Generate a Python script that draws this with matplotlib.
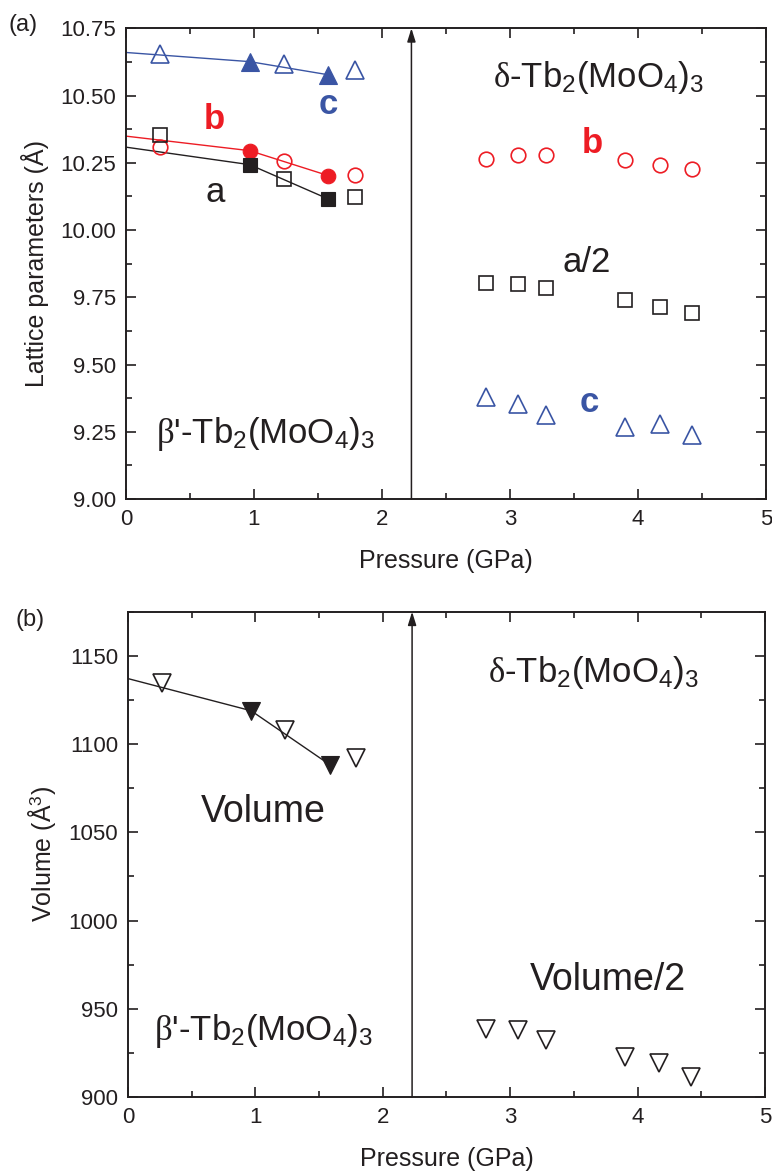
import matplotlib
matplotlib.use("Agg")
import matplotlib.pyplot as plt
from matplotlib.ticker import MultipleLocator, FormatStrFormatter

plt.rcParams['font.family'] = ['Liberation Sans', 'DejaVu Sans']
plt.rcParams['mathtext.fontset'] = 'custom'
plt.rcParams['mathtext.rm'] = 'Liberation Sans'
plt.rcParams['mathtext.it'] = 'Liberation Serif'
plt.rcParams['mathtext.bf'] = 'Liberation Sans:bold'

# ---- data -------------------------------------------------------------
# low-pressure beta' phase
p_lo_open = [0.268, 1.236, 1.788]
p_lo_fill = [0.966, 1.582]
p_fit = [0.0, 0.966, 1.582]

a_lo_open = [10.354, 10.191, 10.121]
a_lo_fill = [10.243, 10.115]
a_fit = [10.308, 10.243, 10.115]

b_lo_open = [10.308, 10.257, 10.204]
b_lo_fill = [10.295, 10.202]
b_fit = [10.349, 10.295, 10.202]

c_lo_open = [10.655, 10.619, 10.594]
c_lo_fill = [10.626, 10.577]
c_fit = [10.660, 10.626, 10.577]

# high-pressure delta phase
p_hi = [2.812, 3.062, 3.280, 3.902, 4.170, 4.422]
b_hi = [10.263, 10.279, 10.277, 10.261, 10.243, 10.226]
a2_hi = [9.803, 9.798, 9.785, 9.740, 9.713, 9.693]
c_hi = [9.381, 9.353, 9.311, 9.269, 9.279, 9.237]

# unit-cell volume
v_lo_open = [1134.5, 1108.0, 1092.0]
v_lo_fill = [1118.9, 1088.4]
v_fit = [1137.1, 1118.9, 1088.4]
v2_hi = [938.5, 938.0, 932.4, 922.8, 919.3, 911.6]

p_transition = 2.23

RED = '#ed1c24'
BLUE = '#3a55a4'
BLK = '#231f20'

BIG = 25
TICK = 16
LAB = 18

fig = plt.figure(figsize=(7.72, 11.73), dpi=100)
ax1 = fig.add_axes([0.1632, 0.5746, 0.829, 0.4013])
ax2 = fig.add_axes([0.1658, 0.0648, 0.8251, 0.4137])


def style_axes(ax, ymajor, yminor):
    ax.set_xlim(0, 5)
    ax.xaxis.set_major_locator(MultipleLocator(1))
    ax.xaxis.set_minor_locator(MultipleLocator(0.5))
    ax.yaxis.set_major_locator(MultipleLocator(ymajor))
    ax.yaxis.set_minor_locator(MultipleLocator(yminor))
    ax.tick_params(which='both', direction='in', top=True, right=True,
                   width=1.2, color=BLK, labelsize=TICK, labelcolor=BLK, pad=7)
    ax.tick_params(which='major', length=7.5)
    ax.tick_params(which='minor', length=4.5)
    for s in ax.spines.values():
        s.set_linewidth(1.4)
        s.set_color(BLK)
    ax.set_xlabel('Pressure (GPa)', fontsize=LAB, color=BLK, labelpad=14)


def transition_arrow(ax):
    y0, y1 = ax.get_ylim()
    ax.annotate('', xy=(p_transition, y1), xytext=(p_transition, y0),
                arrowprops=dict(arrowstyle='-|>,head_length=0.8,head_width=0.25',
                                color=BLK, lw=1.1, shrinkA=0, shrinkB=0))


# ---- panel (a): lattice parameters ------------------------------------
ax = ax1
ax.set_ylim(9.0, 10.75)
style_axes(ax, 0.25, 0.125)
ax.yaxis.set_major_formatter(FormatStrFormatter('%.2f'))

open_kw = dict(linestyle='none', fillstyle='none', markeredgewidth=1.2)
fill_kw = dict(linestyle='none', markeredgewidth=0.8)

ax.plot(p_fit, c_fit, '-', color=BLUE, lw=1.0)
ax.plot(p_fit, b_fit, '-', color=RED, lw=1.0)
ax.plot(p_fit, a_fit, '-', color=BLK, lw=1.0)

ax.plot(p_lo_open, c_lo_open, marker='^', ms=12.5, color=BLUE, **open_kw)
ax.plot(p_lo_fill, c_lo_fill, marker='^', ms=12.5, color=BLUE, **fill_kw)
ax.plot(p_lo_open, b_lo_open, marker='o', ms=10.5, color=RED, **open_kw)
ax.plot(p_lo_fill, b_lo_fill, marker='o', ms=10.5, color=RED, **fill_kw)
ax.plot(p_lo_open, a_lo_open, marker='s', ms=9.5, color=BLK, **open_kw)
ax.plot(p_lo_fill, a_lo_fill, marker='s', ms=9.5, color=BLK, **fill_kw)

ax.plot(p_hi, b_hi, marker='o', ms=10.5, color=RED, **open_kw)
ax.plot(p_hi, a2_hi, marker='s', ms=9.5, color=BLK, **open_kw)
ax.plot(p_hi, c_hi, marker='^', ms=12.5, color=BLUE, **open_kw)

transition_arrow(ax)

ax.text(1.578, 10.465, 'c', color=BLUE, fontsize=BIG, fontweight='bold',
        ha='center', va='center')
ax.text(0.69, 10.41, 'b', color=RED, fontsize=BIG, fontweight='bold',
        ha='center', va='center')
ax.text(0.695, 10.138, 'a', color=BLK, fontsize=BIG, ha='center', va='center')
ax.text(3.64, 10.32, 'b', color=RED, fontsize=BIG, fontweight='bold',
        ha='center', va='center')
ax.text(3.60, 9.881, 'a/2', color=BLK, fontsize=BIG, ha='center', va='center')
ax.text(3.617, 9.358, 'c', color=BLUE, fontsize=BIG, fontweight='bold',
        ha='center', va='center')
ax.text(3.69, 10.53, r'$\delta$-Tb$_2$(MoO$_4$)$_3$', color=BLK, fontsize=BIG,
        ha='center', va='baseline')
ax.text(1.086, 9.21, r"$\beta$'-Tb$_2$(MoO$_4$)$_3$", color=BLK, fontsize=BIG,
        ha='center', va='baseline')

ax.set_ylabel('Lattice parameters (Å)', fontsize=LAB, color=BLK, labelpad=8)
fig.text(23 / 772, 1 - 25 / 1173, '(a)', fontsize=TICK + 1, color=BLK,
         ha='center', va='center')

# ---- panel (b): volume -------------------------------------------------
ax = ax2
ax.set_ylim(900, 1175)
style_axes(ax, 50, 25)

ax.plot(p_fit, v_fit, '-', color=BLK, lw=1.0)
ax.plot(p_lo_open, v_lo_open, marker='v', ms=13, color=BLK, **open_kw)
ax.plot(p_lo_fill, v_lo_fill, marker='v', ms=13, color=BLK, **fill_kw)
ax.plot(p_hi, v2_hi, marker='v', ms=13, color=BLK, **open_kw)

transition_arrow(ax)

ax.text(1.06, 1056, 'Volume', color=BLK, fontsize=BIG + 2, ha='center',
        va='baseline')
ax.text(3.77, 960.6, 'Volume/2', color=BLK, fontsize=BIG + 2, ha='center',
        va='baseline')
ax.text(3.65, 1135, r'$\delta$-Tb$_2$(MoO$_4$)$_3$', color=BLK, fontsize=BIG,
        ha='center', va='baseline')
ax.text(1.064, 932.5, r"$\beta$'-Tb$_2$(MoO$_4$)$_3$", color=BLK, fontsize=BIG,
        ha='center', va='baseline')

ax.set_ylabel('Volume (Å$^3$)', fontsize=LAB, color=BLK, labelpad=8)
fig.text(30 / 772, 1 - 620 / 1173, '(b)', fontsize=TICK + 1, color=BLK,
         ha='center', va='center')

fig.savefig('out.png', dpi=100)
